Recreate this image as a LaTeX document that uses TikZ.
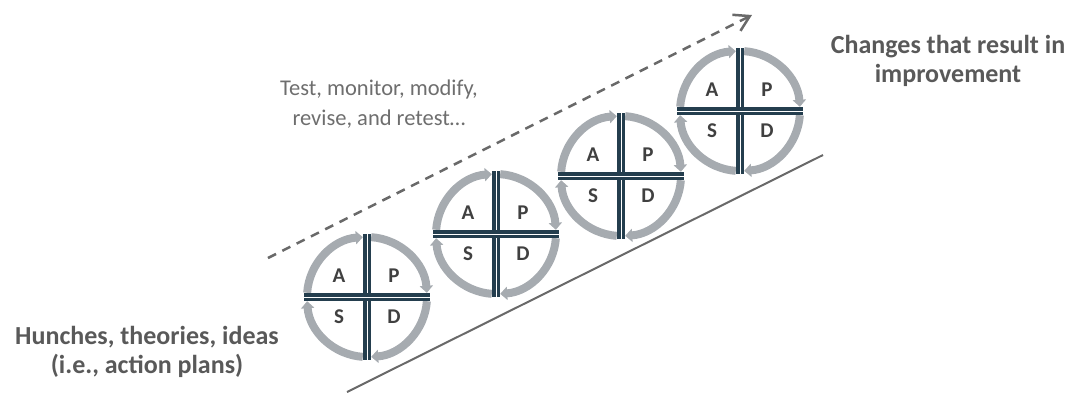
\documentclass[tikz,border=0pt]{standalone}
\usepackage{fontspec}
\setmainfont{Carlito}
\usetikzlibrary{arrows.meta}
\definecolor{ringgray}{RGB}{166,171,176}
\definecolor{crossblue}{RGB}{36,62,78}
\definecolor{labeldark}{RGB}{64,64,64}
\definecolor{titlegray}{RGB}{89,89,89}
\definecolor{notegray}{RGB}{110,110,110}
\definecolor{linegray}{RGB}{105,105,105}
\tikzset{
  ringarc/.style={draw=ringgray, line width=8pt, -{Triangle[width=13pt,length=7pt]}},
  crossline/.style={draw=crossblue, line width=3.1pt, double=white, double distance=0.9pt},
  letter/.style={font=\fontsize{21}{23}\selectfont\bfseries, text=labeldark, inner sep=0pt},
  titletext/.style={font=\fontsize{26}{29}\selectfont\bfseries, text=titlegray, align=center, inner sep=0pt},
  notetext/.style={font=\fontsize{22.5}{30}\selectfont, text=notegray, align=center, inner sep=0pt},
  baseline/.style={draw=linegray, line width=2pt},
  trendarrow/.style={draw=linegray, line width=2.5pt, dash pattern=on 9pt off 7pt, -{Straight Barb[length=15pt,width=18pt]}},
}
\newcommand\pdsacycle[3]{%
  \coordinate (#1) at (#2,#3);
  \foreach \a/\b in {-86/-4, 4/86, 94/176, 184/266}
    \draw[ringarc] ([shift={(\a:60)}]#1) arc[start angle=\a, end angle=\b, radius=60];
  \draw[crossline] ([shift={(0,-63)}]#1) -- ([shift={(0,63)}]#1);
  \draw[crossline] ([shift={(-63,0)}]#1) -- ([shift={(63,0)}]#1);
  \node[letter] (#1A) at ([shift={(-28,-21)}]#1) {A};
  \node[letter] (#1P) at ([shift={(27,-21)}]#1) {P};
  \node[letter] (#1S) at ([shift={(-28,20)}]#1) {S};
  \node[letter] (#1D) at ([shift={(27,20)}]#1) {D};
}
\begin{document}
\begin{tikzpicture}[x=1pt,y=-1pt]
\useasboundingbox (0,0) rectangle (1066,392);
\coordinate (baseS) at (347,392);
\coordinate (baseE) at (823,155);
\draw[baseline] (baseS) -- (baseE);
\coordinate (trendS) at (268,258);
\coordinate (trendE) at (752,15);
\draw[trendarrow] (trendS) -- (trendE);
\pdsacycle{c1}{367}{297}
\pdsacycle{c2}{496}{234}
\pdsacycle{c3}{621}{176}
\pdsacycle{c4}{740}{111}
\node[titletext] (start) at (147,352) {Hunches, theories, ideas\\(i.e., action plans)};
\node[titletext] (goal) at (948,61) {Changes that result in\\improvement};
\node[notetext] (note) at (379,104) {Test, monitor, modify,\\revise, and retest…};
\end{tikzpicture}
\end{document}
